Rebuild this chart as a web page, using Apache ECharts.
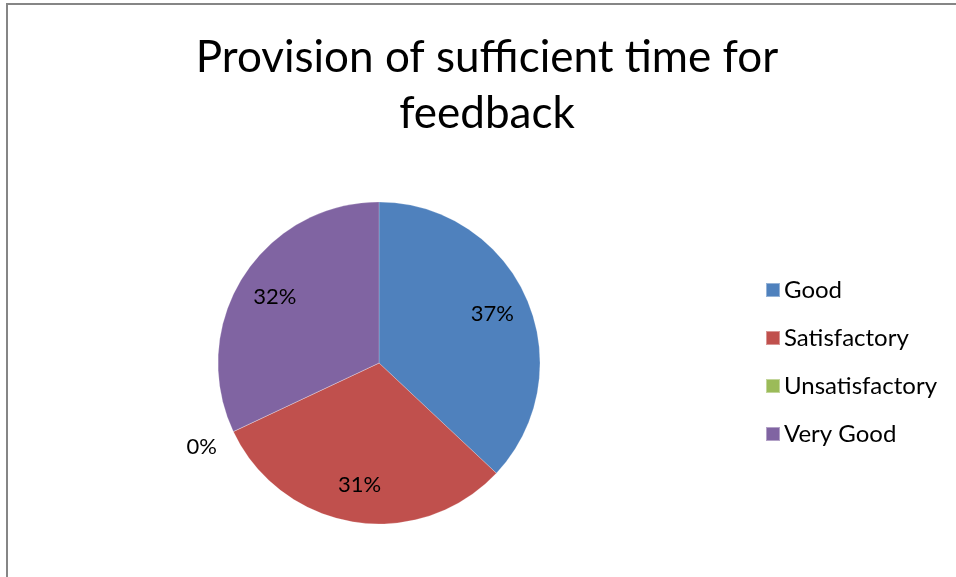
<html>
<head>
    <meta charset="utf-8"/>
    <title>Provision of sufficient time for feedback</title>
    <script src="https://cdn.jsdelivr.net/npm/echarts@6/dist/echarts.min.js"></script>
    <style>
        html, body { margin: 0; padding: 0; background: #fff; }
        #main { width: 956px; height: 577px; }
    </style>
</head>
<body>
<div id="main"></div>
<script type="text/javascript">
    var categories = ['Good', 'Satisfactory', 'Unsatisfactory', 'Very Good'];
    var values = [37, 31, 0, 32];
    var colors = ['#4F81BD', '#C0504D', '#9BBB59', '#8064A2'];

    var fontName = 'Lato, "Open Sans", sans-serif';
    var center = [379, 363];
    var radius = 161;

    function pieData(hidden) {
        var list = [];
        for (var i = 0; i < categories.length; i++) {
            var item = { name: categories[i], value: values[i] };
            if (hidden) item.itemStyle = { color: 'rgba(0,0,0,0)' };
            list.push(item);
        }
        return list;
    }

    function pctLabel(p) {
        return Math.round(p.percent) + '%';
    }

    var myChart = echarts.init(document.getElementById('main'));

    var option = {
        color: colors,
        animation: false,
        title: {
            text: 'Provision of sufficient time for\nfeedback',
            left: 482,
            textAlign: 'center',
            top: 25,
            textStyle: {
                fontFamily: fontName,
                fontSize: 44,
                lineHeight: 56,
                fontWeight: 'normal',
                color: '#000'
            }
        },
        legend: {
            orient: 'vertical',
            left: 765,
            top: 278,
            padding: 0,
            icon: 'rect',
            itemWidth: 14,
            itemHeight: 14,
            itemGap: 24,
            data: categories,
            textStyle: {
                fontFamily: fontName,
                fontSize: 24,
                lineHeight: 24,
                color: '#000',
                padding: [0, 0, 0, -1]
            }
        },
        graphic: [{
            type: 'rect',
            shape: { x: 7, y: 4, width: 1200, height: 1000 },
            style: { fill: 'none', stroke: '#868686', lineWidth: 2 },
            silent: true
        }],
        series: [{
            name: 'slices',
            type: 'pie',
            center: center,
            radius: [0, radius],
            startAngle: 90,
            clockwise: true,
            label: { show: false },
            labelLine: { show: false },
            itemStyle: { borderColor: 'rgba(255,255,255,0.4)', borderWidth: 0.5 },
            emphasis: { disabled: true },
            data: pieData(false)
        }, {
            // labels for the non-empty slices, placed out towards the rim
            name: 'labels',
            type: 'pie',
            silent: true,
            center: center,
            radius: [80, radius],
            startAngle: 90,
            clockwise: true,
            label: {
                show: true,
                position: 'inside',
                formatter: function (p) { return p.value > 0 ? pctLabel(p) : ''; },
                fontFamily: fontName,
                fontSize: 22,
                color: '#000'
            },
            labelLine: { show: false },
            emphasis: { disabled: true },
            data: pieData(true)
        }, {
            // label for the empty slice, outside the pie
            name: 'zero',
            type: 'pie',
            silent: true,
            center: center,
            radius: [183, 203],
            startAngle: 90,
            clockwise: true,
            label: {
                show: true,
                position: 'inside',
                formatter: function (p) { return p.value > 0 ? '' : pctLabel(p); },
                fontFamily: fontName,
                fontSize: 22,
                color: '#000'
            },
            labelLine: { show: false },
            emphasis: { disabled: true },
            data: pieData(true)
        }]
    };

    myChart.setOption(option);
</script>
</body>
</html>
